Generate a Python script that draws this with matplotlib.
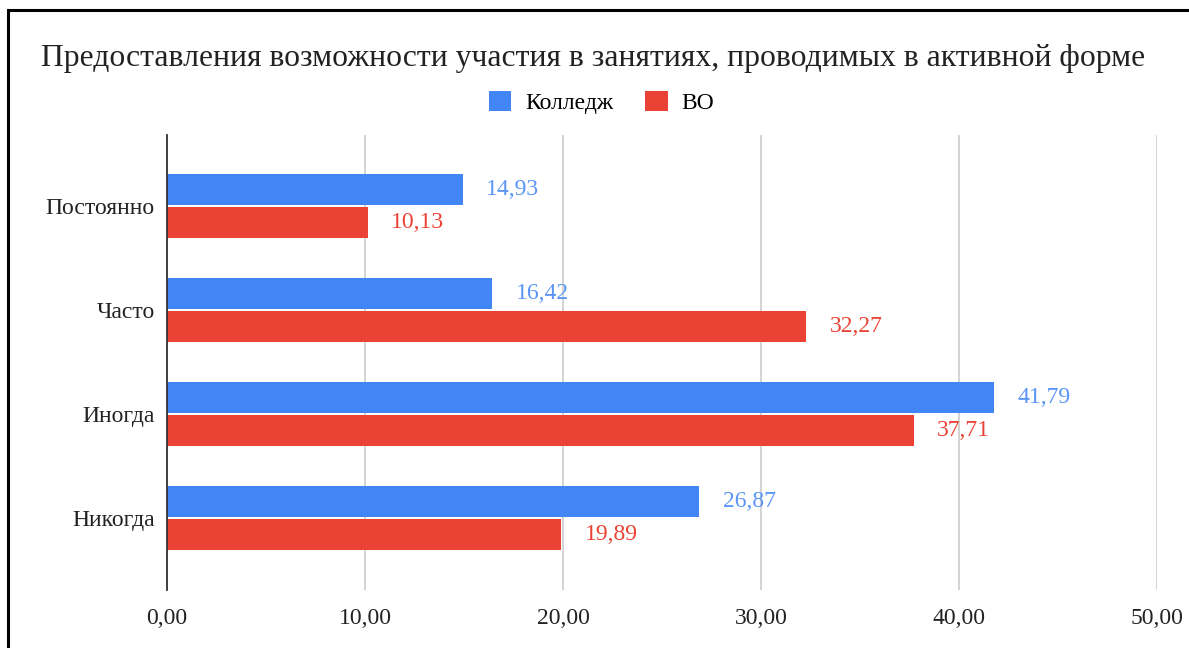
import matplotlib.pyplot as plt
from matplotlib.patches import Rectangle
import numpy as np

plt.rcParams['font.family'] = ['Liberation Serif', 'DejaVu Serif']

categories = ['Постоянно', 'Часто', 'Иногда', 'Никогда']
college = [14.93, 16.42, 41.79, 26.87]
vo = [10.13, 32.27, 37.71, 19.89]
ticks = [0, 10, 20, 30, 40, 50]

blue = '#4285f4'
red = '#ea4335'

fig = plt.figure(figsize=(11.89, 6.48), dpi=100)
ax = fig.add_axes([0.1405, 0.0895, 0.8325, 0.702])

y = np.arange(len(categories))
h = 0.3
ax.barh(y - 0.16, college, height=h, color=blue, label='Колледж', zorder=3)
ax.barh(y + 0.16, vo, height=h, color=red, label='ВО', zorder=3)

# подписи значений у концов столбцов
for i in range(len(categories)):
    ax.annotate(f'{college[i]:.2f}'.replace('.', ','), (college[i], y[i] - 0.16),
                xytext=(17, 0), textcoords='offset points', va='center',
                color='#5a95f5', fontsize=17)
    ax.annotate(f'{vo[i]:.2f}'.replace('.', ','), (vo[i], y[i] + 0.16),
                xytext=(17, 0), textcoords='offset points', va='center',
                color=red, fontsize=17)

ax.set_ylim(3.69, -0.68)
ax.set_xlim(0, 50)
ax.set_yticks(y)
ax.set_yticklabels(categories, fontsize=17, color='#222222')
ax.set_xticks(ticks)
ax.set_xticklabels([f'{t:.2f}'.replace('.', ',') for t in ticks], fontsize=17, color='#222222')
ax.tick_params(length=0, pad=9)
ax.tick_params(axis='x', pad=13)
ax.grid(axis='x', color='#cccccc', linewidth=1.2, zorder=0)
for s in ['top', 'right', 'bottom']:
    ax.spines[s].set_visible(False)
ax.spines['left'].set_color('#333333')
ax.spines['left'].set_linewidth(1.3)
ax.spines['left'].set_zorder(4)

fig.text(0.499, 0.91, 'Предоставления возможности участия в занятиях, проводимых в активной форме',
         ha='center', va='center', fontsize=22.8, color='#222222')
fig.legend(loc='center', bbox_to_anchor=(0.506, 0.842), ncol=2, frameon=False,
           fontsize=17, handlelength=0.95, handleheight=0.95, columnspacing=1.35,
           handletextpad=0.6)

# рамка вокруг картинки
fig.add_artist(Rectangle((7.5 / 1189, -0.1), 1.2, 1.1 - 10.5 / 648,
                         transform=fig.transFigure, fill=False,
                         edgecolor='black', linewidth=2.2))

fig.savefig('out.png', dpi=100)
